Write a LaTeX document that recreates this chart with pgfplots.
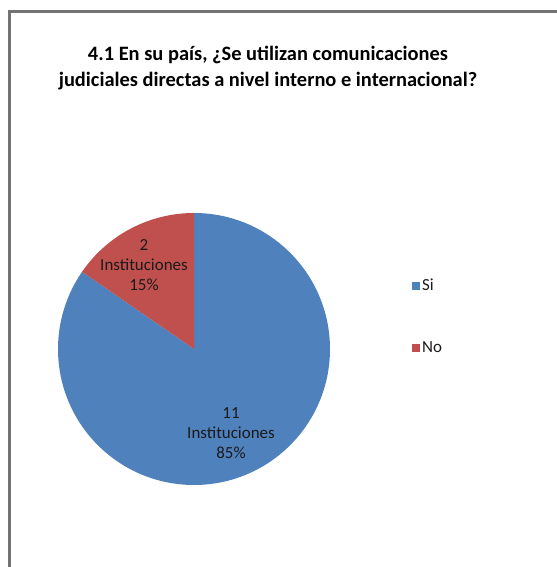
\documentclass[border=0pt]{standalone}
\usepackage{fontspec}
\setmainfont{Carlito}
\usepackage{pgfplots}
\usepackage{pgfplotstable}
\pgfplotsset{compat=1.18}
\definecolor{siblue}{HTML}{4F81BD}
\definecolor{nored}{HTML}{C0504D}
\definecolor{txt}{HTML}{1A1A1A}
\pgfplotstableread{
label value
Si 11
No 2
}\piedata
\begin{document}
\begin{tikzpicture}
\pgfplotstablegetelem{0}{value}\of\piedata \let\vSi\pgfplotsretval
\pgfplotstablegetelem{1}{value}\of\piedata \let\vNo\pgfplotsretval
\pgfmathsetmacro\tot{\vSi+\vNo}
\pgfmathsetmacro\aSi{360*\vSi/\tot}
\pgfmathsetmacro\endSi{90-\aSi}
\pgfmathsetmacro\pSi{round(100*\vSi/\tot)}
\pgfmathsetmacro\pNo{round(100*\vNo/\tot)}
\pgfmathtruncatemacro\pSiI{\pSi}
\pgfmathtruncatemacro\pNoI{\pNo}
\pgfmathtruncatemacro\vSiI{\vSi}
\pgfmathtruncatemacro\vNoI{\vNo}
\begin{axis}[
  scale only axis, width=557bp, height=567bp,
  xmin=0, xmax=557, ymin=0, ymax=567,
  hide axis, clip=false,
  legend style={at={(axis cs:412,250.5)}, anchor=west, draw=none, fill=none,
    font=\fontsize{17}{20}\selectfont, text=txt, row sep=45bp,
    legend cell align=left, inner sep=0pt,
    /tikz/every even column/.style={column sep=5bp}},
  legend image code/.code={\fill[#1] (0cm,-4bp) rectangle (8bp,4bp);},
]
\addlegendimage{fill=siblue, draw=none}
\addlegendentry{Si}
\addlegendimage{fill=nored, draw=none}
\addlegendentry{No}
\coordinate (bl) at (rel axis cs:0,0);
\coordinate (tr) at (rel axis cs:1,1);
% frame
\draw[gray!90!black, line width=2.5bp] (axis cs:9.5,-5) -- (axis cs:9.5,555.5) -- (axis cs:565,555.5);
% pie
\fill[siblue] (axis cs:194,218) -- ++(90:136bp) arc[start angle=90, end angle=\endSi, radius=136bp] -- cycle;
\fill[nored] (axis cs:194,218) -- ++(\endSi:136bp) arc[start angle=\endSi, end angle=-270, radius=136bp] -- cycle;
% labels
\node[align=center, text=txt, font=\fontsize{17}{20}\selectfont] at (axis cs:144,302) {\vNoI\\Instituciones\\\pNoI\%};
\node[align=center, text=txt, font=\fontsize{17}{20}\selectfont] at (axis cs:231,134) {\vSiI\\Instituciones\\\pSiI\%};
% title
\node[align=center, font=\bfseries\fontsize{20.5}{26}\selectfont] at (axis cs:268,499) {4.1 En su país, ¿Se utilizan comunicaciones\\judiciales directas a nivel interno e internacional?};
\end{axis}
\pgfresetboundingbox
\path (bl) rectangle (tr);
\end{tikzpicture}
\end{document}
